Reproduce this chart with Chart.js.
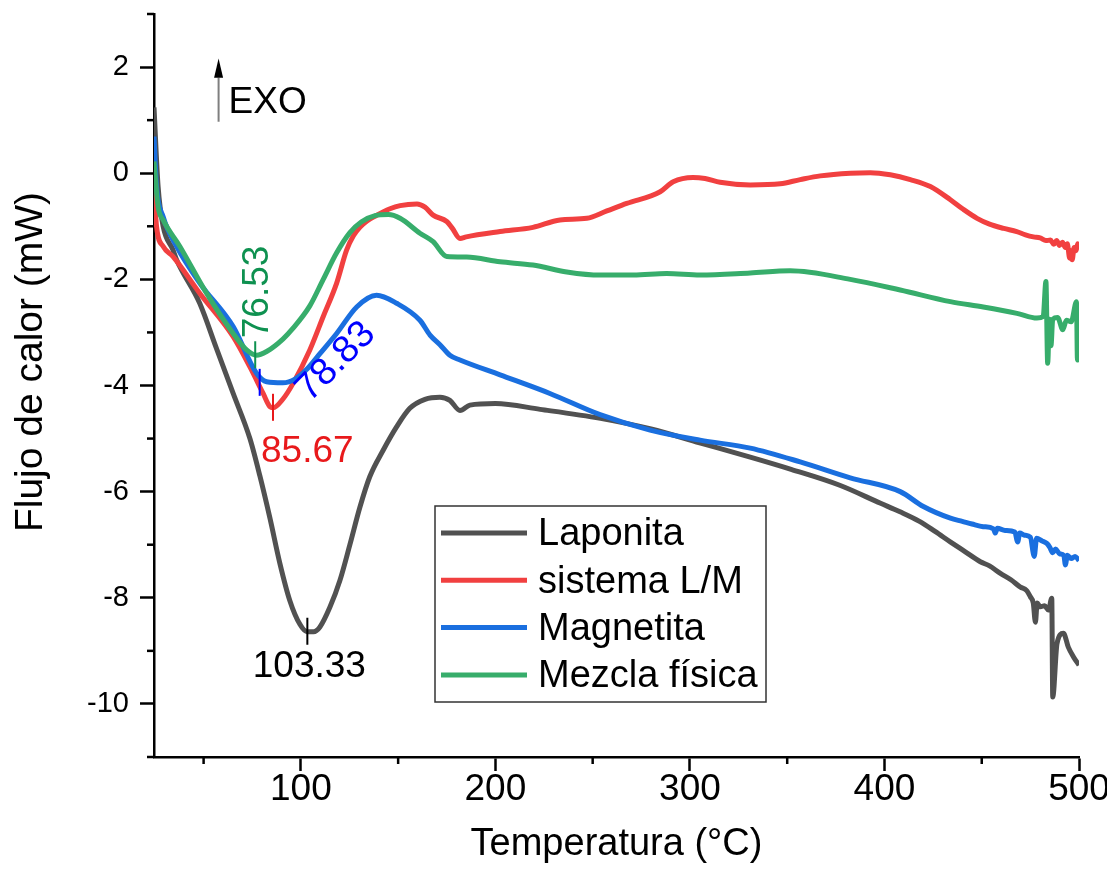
<!DOCTYPE html>
<html>
<head>
<meta charset="utf-8">
<script src="https://cdn.jsdelivr.net/npm/chart.js@4.4.1/dist/chart.umd.min.js"></script>
<style>
  body { margin: 0; background: #fff; }
  #wrap { width: 1107px; height: 871px; }
</style>
</head>
<body>
<div id="wrap"><canvas id="dsc" width="1107" height="871"></canvas></div>
<script>
// temperatures (°C) and heat flow (mW)
var lapT = [24.5, 26.6, 29.2, 34.3, 36.1, 48.0, 56.6, 65.2, 73.8, 78.9, 84.1, 89.2, 94.3, 99.5, 103.3, 106.5, 109.8, 114.9, 120.1, 125.2, 130.3, 135.4, 142.3, 149.2, 156.0, 163.8, 171.5, 176.6, 181.8, 186.9, 200, 223, 254, 280, 305, 331, 352, 377, 398, 408, 418, 426, 434, 441, 449.3, 454, 459.6, 465, 469.9, 473, 475.0, 476.5, 477.6, 478.5, 480.1, 482.3, 484.3, 486.0, 486.5, 488.7, 492.0, 494.5, 497.1, 500];
var lapV = [1.24, -0.25, -1.0, -1.45, -1.63, -2.45, -3.30, -4.15, -5.00, -5.70, -6.50, -7.35, -8.05, -8.50, -8.64, -8.64, -8.55, -8.18, -7.67, -7.00, -6.30, -5.72, -5.22, -4.78, -4.43, -4.26, -4.22, -4.28, -4.47, -4.37, -4.34, -4.45, -4.62, -4.82, -5.08, -5.35, -5.58, -5.88, -6.22, -6.38, -6.56, -6.75, -6.95, -7.12, -7.32, -7.40, -7.54, -7.66, -7.80, -7.86, -7.98, -8.10, -8.46, -8.10, -8.17, -8.15, -8.23, -8.01, -9.87, -8.86, -8.67, -8.93, -9.11, -9.27];

var slmT = [24.5, 25.8, 29.2, 34.3, 48.0, 65.2, 73.8, 80.6, 84.1, 85.7, 90.9, 96.0, 104.6, 111.5, 118.4, 123.5, 127.0, 130.3, 134.0, 138.1, 145.8, 151.0, 159.7, 163.8, 168.0, 175.0, 177.7, 181.8, 185.0, 202.4, 219.3, 233.2, 247.0, 257.3, 267.5, 284.7, 291.4, 301.6, 307.8, 315.5, 331.0, 346.4, 356.7, 367.0, 382.4, 392.7, 403.0, 413.3, 423.6, 433.9, 440.5, 447.6, 454.0, 461.3, 468.0, 472.5, 476.6, 480.0, 483.0, 485.3, 487.0, 488.5, 490.0, 491.5, 493.0, 494.0, 495.2, 495.8, 496.5, 497.5, 498.5, 499.3, 500];
var slmV = [-0.25, -1.0, -1.38, -1.57, -2.26, -3.08, -3.65, -4.15, -4.40, -4.42, -4.25, -3.96, -3.33, -2.70, -2.07, -1.45, -1.18, -1.02, -0.90, -0.81, -0.67, -0.61, -0.58, -0.64, -0.79, -0.91, -1.03, -1.23, -1.20, -1.10, -1.02, -0.88, -0.85, -0.71, -0.57, -0.35, -0.16, -0.08, -0.10, -0.17, -0.22, -0.20, -0.12, -0.05, 0.0, 0.01, -0.03, -0.12, -0.25, -0.50, -0.68, -0.85, -0.96, -1.04, -1.10, -1.16, -1.20, -1.22, -1.27, -1.26, -1.34, -1.27, -1.36, -1.30, -1.40, -1.33, -1.60, -1.46, -1.63, -1.40, -1.46, -1.33, -1.40];

var magT = [24.5, 25.8, 29.2, 36.1, 48.0, 65.2, 77.2, 82.4, 90.7, 97.0, 102.9, 109.8, 118.4, 128.7, 138.9, 149.2, 161.2, 166.4, 171.5, 176.6, 181.8, 202.4, 228.0, 253.8, 279.5, 305.2, 331.0, 356.7, 382.4, 408.1, 420.0, 433.9, 440.0, 445.0, 450.8, 456.0, 457.0, 458.0, 462.0, 467.0, 468.5, 469.5, 472.0, 475.0, 477.0, 478.2, 481.0, 483.6, 485.0, 486.5, 488.0, 490.0, 492.2, 493.0, 494.0, 496.0, 498.0, 500];
var magV = [0.69, -0.25, -0.82, -1.38, -2.07, -2.89, -3.77, -3.93, -3.95, -3.88, -3.70, -3.40, -3.02, -2.52, -2.30, -2.45, -2.77, -3.05, -3.23, -3.43, -3.52, -3.80, -4.15, -4.55, -4.84, -5.03, -5.18, -5.44, -5.74, -6.00, -6.28, -6.50, -6.56, -6.61, -6.66, -6.70, -6.78, -6.69, -6.73, -6.76, -6.95, -6.78, -6.82, -6.86, -7.22, -6.88, -6.93, -6.98, -7.05, -7.15, -7.08, -7.17, -7.20, -7.38, -7.20, -7.26, -7.22, -7.30];

var mezT = [24.5, 26.6, 29.2, 37.8, 51.5, 65.2, 72.1, 77.2, 82.4, 90.9, 96.0, 104.6, 111.5, 118.4, 125.2, 131.0, 138.1, 145.0, 151.0, 161.2, 168.0, 175.0, 185.2, 202.4, 219.3, 236.7, 253.8, 271.0, 288.0, 305.2, 331.0, 351.5, 382.4, 408.1, 433.9, 450.8, 468.1, 478.4, 481.6, 483.0, 483.9, 484.8, 485.6, 486.5, 489.0, 491.7, 493.5, 496.0, 498.7, 499.2, 500];
var mezV = [0.22, -0.63, -0.88, -1.38, -2.26, -3.02, -3.33, -3.43, -3.36, -3.12, -2.92, -2.50, -2.00, -1.50, -1.12, -0.92, -0.80, -0.78, -0.85, -1.13, -1.29, -1.57, -1.58, -1.67, -1.73, -1.86, -1.92, -1.92, -1.89, -1.92, -1.88, -1.84, -2.00, -2.20, -2.42, -2.52, -2.64, -2.73, -2.70, -2.04, -3.58, -2.75, -3.25, -2.75, -2.72, -2.95, -2.77, -2.80, -2.42, -3.52, -3.00];

var seriesNames = ['Laponita', 'sistema L/M', 'Magnetita', 'Mezcla física'];
var seriesColors = ['#515151', '#F14040', '#1A6FDF', '#37AD6B'];

var xTicks = [100, 200, 300, 400, 500];
var xMinor = [50, 150, 250, 350, 450];
var yTicks = [-10, -8, -6, -4, -2, 0, 2];
var yMinor = [-11, -9, -7, -5, -3, -1, 1, 3];

// peak annotations: temperature, value at minimum, text, colour
var peakT = [103.33, 85.67, 78.83, 76.53];
var peakV = [-8.64, -4.42, -3.95, -3.43];
var peakLabel = ['103.33', '85.67', '78.83', '76.53'];
var peakColor = ['#000000', '#E8191B', '#0000FF', '#0E9150'];

function pts(t, v) {
  var out = [];
  for (var i = 0; i < t.length; i++) out.push({x: t[i], y: v[i]});
  return out;
}

var FONT = "'Liberation Sans', Arial, sans-serif";

var extras = {
  id: 'extras',
  afterDraw: function(chart) {
    var ctx = chart.ctx;
    var xs = chart.scales.x, ys = chart.scales.y;
    var area = chart.chartArea;
    ctx.save();

    // minor ticks
    ctx.strokeStyle = '#000';
    ctx.lineWidth = 2.5;
    xMinor.forEach(function(v) {
      var px = xs.getPixelForValue(v);
      ctx.beginPath(); ctx.moveTo(px, area.bottom); ctx.lineTo(px, area.bottom + 7); ctx.stroke();
    });
    yMinor.forEach(function(v) {
      var py = ys.getPixelForValue(v);
      ctx.beginPath(); ctx.moveTo(area.left, py); ctx.lineTo(area.left - 7, py); ctx.stroke();
    });

    // EXO arrow
    var ax = xs.getPixelForValue(57.7);
    ctx.strokeStyle = '#7f7f7f';
    ctx.lineWidth = 2;
    ctx.beginPath(); ctx.moveTo(ax, ys.getPixelForValue(0.97)); ctx.lineTo(ax, ys.getPixelForValue(1.8)); ctx.stroke();
    ctx.fillStyle = '#000';
    ctx.beginPath();
    ctx.moveTo(ax, ys.getPixelForValue(2.16));
    ctx.lineTo(ax - 4.5, ys.getPixelForValue(1.8));
    ctx.lineTo(ax + 4.5, ys.getPixelForValue(1.8));
    ctx.closePath(); ctx.fill();
    ctx.font = '37px ' + FONT;
    ctx.textAlign = 'left';
    ctx.textBaseline = 'alphabetic';
    ctx.fillText('EXO', ax + 10, ys.getPixelForValue(1.13));

    // peak markers
    for (var i = 0; i < peakT.length; i++) {
      var px = xs.getPixelForValue(peakT[i]);
      var py = ys.getPixelForValue(peakV[i]);
      ctx.strokeStyle = peakColor[i];
      ctx.lineWidth = 2;
      ctx.beginPath(); ctx.moveTo(px, py - 14); ctx.lineTo(px, py + 13); ctx.stroke();
      ctx.fillStyle = peakColor[i];
      ctx.font = '37px ' + FONT;
      ctx.save();
      if (i === 0) {
        ctx.textAlign = 'center';
        ctx.fillText(peakLabel[i], px + 2, py + 45);
      } else if (i === 1) {
        ctx.textAlign = 'left';
        ctx.fillText(peakLabel[i], px - 12, py + 54);
      } else if (i === 2) {
        ctx.font = '38px ' + FONT;
        ctx.translate(px + 50, py + 20);
        ctx.rotate(-45 * Math.PI / 180);
        ctx.textAlign = 'left';
        ctx.fillText(peakLabel[i], 0, 0);
      } else {
        ctx.translate(px + 13, py - 17);
        ctx.rotate(-Math.PI / 2);
        ctx.textAlign = 'left';
        ctx.fillText(peakLabel[i], 0, 0);
      }
      ctx.restore();
    }

    // legend box
    var lx = 435, ly = 506, lw = 331, lh = 196;
    ctx.strokeStyle = '#333';
    ctx.lineWidth = 1.5;
    ctx.strokeRect(lx, ly, lw, lh);
    ctx.font = '38px ' + FONT;
    ctx.textAlign = 'left';
    ctx.textBaseline = 'middle';
    chart.data.datasets.forEach(function(ds, k) {
      var cy = 533 + k * 47.3;
      ctx.strokeStyle = ds.borderColor;
      ctx.lineWidth = 5;
      ctx.beginPath(); ctx.moveTo(441, cy); ctx.lineTo(527, cy); ctx.stroke();
      ctx.fillStyle = '#000';
      ctx.fillText(ds.label, 538, cy + 2);
    });

    // y axis title
    ctx.save();
    ctx.translate(42, 362);
    ctx.rotate(-Math.PI / 2);
    ctx.font = '39px ' + FONT;
    ctx.textAlign = 'center';
    ctx.textBaseline = 'alphabetic';
    ctx.fillStyle = '#000';
    ctx.fillText('Flujo de calor (mW)', 0, 0);
    ctx.restore();

    ctx.restore();
  }
};

new Chart(document.getElementById('dsc'), {
  type: 'line',
  data: {
    datasets: [
      {label: seriesNames[0], data: pts(lapT, lapV), borderColor: seriesColors[0], order: 4},
      {label: seriesNames[1], data: pts(slmT, slmV), borderColor: seriesColors[1], order: 3},
      {label: seriesNames[2], data: pts(magT, magV), borderColor: seriesColors[2], order: 2},
      {label: seriesNames[3], data: pts(mezT, mezV), borderColor: seriesColors[3], order: 1}
    ]
  },
  options: {
    responsive: false,
    animation: false,
    devicePixelRatio: 1,
    layout: {padding: {left: 0, right: 28, top: 14, bottom: 0}},
    elements: {
      line: {borderWidth: 5, cubicInterpolationMode: 'monotone', fill: false},
      point: {radius: 0}
    },
    plugins: {legend: {display: false}, tooltip: {enabled: false}},
    scales: {
      x: {
        type: 'linear',
        min: 24.5,
        max: 500,
        afterBuildTicks: function(s) { s.ticks = xTicks.map(function(v) { return {value: v}; }); },
        afterFit: function(s) { s.height = 114; s.paddingLeft = 0; s.paddingRight = 0; },
        border: {display: true, color: '#000', width: 2.5},
        grid: {drawOnChartArea: false, drawTicks: true, tickLength: 14, tickWidth: 2.5, tickColor: '#000'},
        ticks: {color: '#000', font: {family: FONT, size: 37}, padding: -3, autoSkip: false, maxRotation: 0},
        title: {display: true, text: 'Temperatura (°C)', color: '#000', font: {family: FONT, size: 38}, padding: {top: 0, bottom: 4}}
      },
      y: {
        min: -11,
        max: 3,
        afterBuildTicks: function(s) { s.ticks = yTicks.map(function(v) { return {value: v}; }); },
        afterFit: function(s) { s.width = 154; s.paddingTop = 0; s.paddingBottom = 0; },
        border: {display: true, color: '#000', width: 2.5},
        grid: {drawOnChartArea: false, drawTicks: true, tickLength: 14, tickWidth: 2.5, tickColor: '#000'},
        ticks: {color: '#000', font: {family: FONT, size: 29}, padding: 11}
      }
    }
  },
  plugins: [extras]
});
</script>
</body>
</html>
